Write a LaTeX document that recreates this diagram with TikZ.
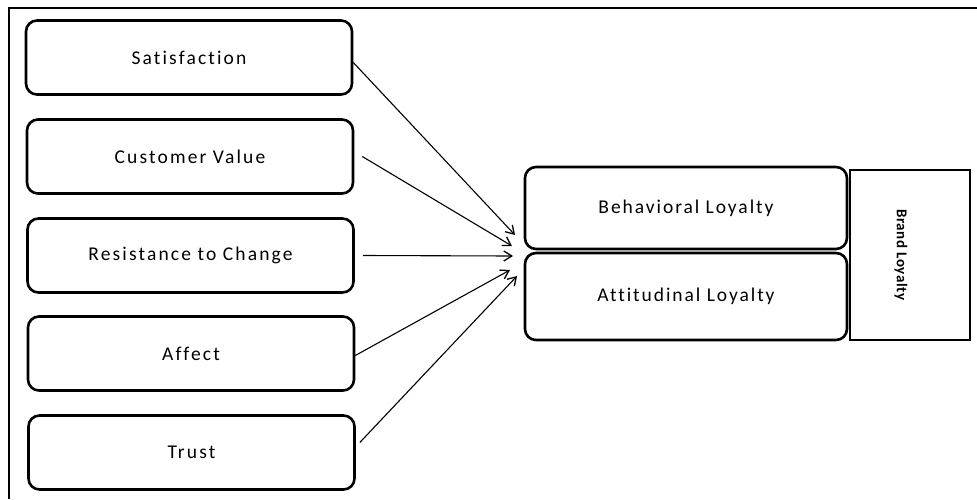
\documentclass[tikz,border=0pt]{standalone}
\usepackage{fontspec}
\setmainfont[Ligatures=NoCommon]{Carlito}
\usetikzlibrary{arrows.meta}
\tikzset{
  factor/.style={draw, line width=2.6pt, rounded corners=11pt, minimum width=326pt, minimum height=74pt, inner sep=0pt,
    font=\fontsize{19.5}{21}\selectfont\addfontfeature{LetterSpace=11}},
  loyal/.style={draw, line width=2.6pt, rounded corners=11pt, minimum width=322pt, inner sep=0pt,
    font=\fontsize{19.5}{21}\selectfont\addfontfeature{LetterSpace=10}},
  brandbox/.style={draw, line width=2.2pt, minimum width=120pt, minimum height=170pt, inner sep=0pt},
  conn/.style={line width=1.1pt, -{Straight Barb[length=8pt,width=10pt,line width=1.3pt]}},
  frame/.style={line width=1.6pt}
}
\begin{document}
\begin{tikzpicture}[x=1pt,y=-1pt]
\useasboundingbox (0,0) rectangle (977,499);
\coordinate (fa) at (9,499);
\coordinate (fb) at (9,8);
\coordinate (fc) at (977,8);
\draw[frame] (fa) -- (fb) -- (fc);

\node[factor] (sat) at (189,57.5) {Satisfaction};
\node[factor] (cv) at (190,156.5) {Customer Value};
\node[factor] (rc) at (190.5,255.5) {Resistance to Change};
\node[factor] (af) at (191,353.5) {Affect};
\node[factor] (tr) at (191.5,452.5) {Trust};

\node[loyal, minimum height=82pt] (bl) at (686,208) {Behavioral Loyalty};
\node[loyal, minimum height=87pt] (al) at (686,296.5) {Attitudinal Loyalty};
\node[brandbox] (br) at (910,255) {};
\node[rotate=-90, font=\bfseries\fontsize{15}{17}\selectfont\addfontfeature{LetterSpace=4}] (brt) at (901,255) {Brand Loyalty};

\coordinate (t1) at (515,235);
\coordinate (t2) at (512,246);
\coordinate (t3) at (513,256);
\coordinate (t4) at (510,270);
\coordinate (t5) at (517,276);

\draw[conn] (sat.east) ++(0,5) -- (t1);
\draw[conn] ([xshift=8pt]cv.east) -- (t2);
\draw[conn] ([xshift=8pt]rc.east) -- (t3);
\draw[conn] ([yshift=-2pt]af.east) -- (t4);
\draw[conn] ([xshift=4pt,yshift=10pt]tr.east) -- (t5);
\end{tikzpicture}
\end{document}
